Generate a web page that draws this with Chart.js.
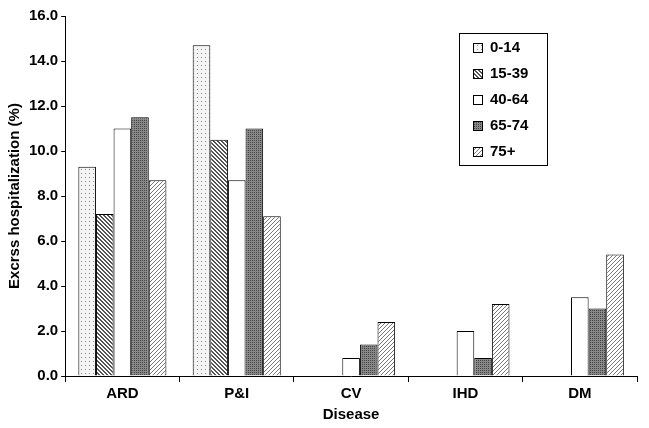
<!DOCTYPE html>
<html>
<head>
<script src="https://cdn.jsdelivr.net/npm/chart.js@4"></script>
<style>body{margin:0;background:#fff}#wrap{width:649px;height:428px}</style>
</head>
<body>
<div id="wrap"><canvas id="c"></canvas></div>
<script>
const diseases = ['ARD', 'P&I', 'CV', 'IHD', 'DM'];
const ageGroups = ['0-14', '15-39', '40-64', '65-74', '75+'];
const age0_14 = [9.3, 14.7, null, null, null];
const age15_39 = [7.2, 10.5, null, null, null];
const age40_64 = [11.0, 8.7, 0.8, 2.0, 3.5];
const age65_74 = [11.5, 11.0, 1.4, 0.8, 3.0];
const age75 = [8.7, 7.1, 2.4, 3.2, 5.4];
const yTicks = ['0.0','2.0','4.0','6.0','8.0','10.0','12.0','14.0','16.0'];

function pattern(kind){
    const p = document.createElement('canvas');
    p.width = 4; p.height = 4;
    const g = p.getContext('2d');
    if (kind === 'dots'){
        g.fillStyle = '#f4f4f4'; g.fillRect(0,0,4,4);
        g.fillStyle = '#888'; g.fillRect(1,1,1,1);
    } else if (kind === 'back'){
        g.fillStyle = '#fff'; g.fillRect(0,0,4,4);
        g.fillStyle = '#555';
        for (let i=0;i<4;i++){ g.fillRect(i,i,1,1); g.fillRect((i+1)%4,i,1,1); }
    } else if (kind === 'dark'){
        g.fillStyle = '#888'; g.fillRect(0,0,4,4);
        g.fillStyle = '#444';
        g.fillRect(0,0,1,1); g.fillRect(2,2,1,1); g.fillRect(2,0,1,1); g.fillRect(0,2,1,1);
    } else if (kind === 'fwd'){
        g.fillStyle = '#fff'; g.fillRect(0,0,4,4);
        g.fillStyle = '#777';
        for (let i=0;i<4;i++){ g.fillRect(3-i,i,1,1); }
    }
    return g.createPattern(p, 'repeat');
}

const fills = [pattern('dots'), pattern('back'), '#ffffff', pattern('dark'), pattern('fwd')];
const series = [age0_14, age15_39, age40_64, age65_74, age75];
const font = {family: 'Arial, "Liberation Sans"', size: 15, weight: 'bold'};

const legendBox = {
    id: 'legendBox',
    afterDraw(chart){
        const ctx = chart.ctx;
        const x = 459, y = 33, w = 88, h = 132;
        ctx.save();
        ctx.strokeStyle = '#000'; ctx.lineWidth = 1;
        ctx.strokeRect(x+0.5, y+0.5, w, h);
        ctx.font = 'bold 15px Arial, "Liberation Sans"';
        ctx.textBaseline = 'middle';
        ageGroups.forEach((lab, i) => {
            const cy = y + 15 + i*26;
            ctx.fillStyle = fills[i];
            ctx.fillRect(x+14, cy-5, 10, 10);
            ctx.strokeStyle = '#000';
            ctx.strokeRect(x+14.5, cy-4.5, 9, 9);
            ctx.fillStyle = '#000';
            ctx.fillText(lab, x+31, cy);
        });
        ctx.restore();
    }
};

new Chart(document.getElementById('c'), {
    type: 'bar',
    data: {
        labels: diseases,
        datasets: series.map((d, i) => ({
            label: ageGroups[i],
            data: d,
            backgroundColor: fills[i],
            borderColor: '#000',
            borderWidth: 1,
            categoryPercentage: 0.77,
            barPercentage: 1.0
        }))
    },
    options: {
        responsive: true,
        maintainAspectRatio: false,
        animation: false,
        layout: {padding: {top: 16, right: 12, left: 4, bottom: 4}},
        plugins: {legend: {display: false}, tooltip: {enabled: false}},
        scales: {
            x: {
                grid: {display: true, drawOnChartArea: false, offset: true, tickLength: 6, color: '#000'},
                border: {color: '#000'},
                ticks: {color: '#000', font: font, padding: 3},
                title: {display: true, text: 'Disease', color: '#000', padding: 0, font: font}
            },
            y: {
                min: 0, max: 16,
                grid: {display: true, drawOnChartArea: false, tickLength: 4, color: '#000'},
                border: {color: '#000'},
                ticks: {stepSize: 2, color: '#000', padding: 3,
                        callback: (v, i) => yTicks[i], font: font},
                title: {display: true, text: 'Excrss hospitalization (%)', color: '#000', padding: 2, font: font}
            }
        }
    },
    plugins: [legendBox]
});
</script>
</body>
</html>
